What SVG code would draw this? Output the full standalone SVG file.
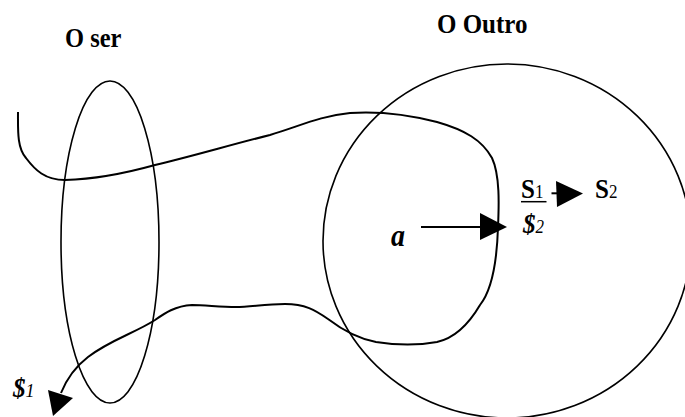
<svg xmlns="http://www.w3.org/2000/svg" width="685" height="417" viewBox="0 0 685 417">
<style>
.shape{fill:none;stroke:#000;stroke-width:1.6}
.line{fill:none;stroke:#000;stroke-width:2}
.head{fill:#000;stroke:none}
text{font-family:"Liberation Serif","Times New Roman","DejaVu Serif",serif;fill:#000}
.b{font-weight:bold}
.i{font-style:italic}
</style>
<rect width="685" height="417" fill="#fff"/>
<g id="o-ser">
  <ellipse class="shape" cx="110" cy="242" rx="49" ry="161"/>
  <text class="b" font-family="Liberation Serif, serif" font-size="24.5" transform="translate(65,46.7) scale(1,1.12)">O ser</text>
</g>
<g id="o-outro">
  <ellipse class="shape" cx="507" cy="241" rx="184" ry="177"/>
  <text class="b" font-family="Liberation Serif, serif" font-size="25" transform="translate(437,33.3) scale(1,1.1)">O Outro</text>
</g>
<g id="node-a">
  <text class="b i" font-family="Liberation Serif, serif" font-size="28" transform="translate(391,246) scale(1,1.15)">a</text>
</g>
<g id="node-s1">
  <text font-family="Liberation Serif, serif" transform="translate(521,198) scale(1,1.05)"><tspan class="b" font-size="25">S</tspan><tspan font-size="17">1</tspan></text>
  <line x1="521" y1="201.7" x2="546.5" y2="201.7" stroke="#000" stroke-width="1.5"/>
</g>
<g id="node-s2">
  <text font-family="Liberation Serif, serif" transform="translate(595,198) scale(1,1.05)"><tspan class="b" font-size="25">S</tspan><tspan font-size="17">2</tspan></text>
</g>
<g id="node-barred-s2">
  <text font-family="Liberation Serif, serif" transform="translate(523,233) scale(1,1.1)"><tspan class="b i" font-size="25">$</tspan><tspan class="i" font-size="17">2</tspan></text>
</g>
<g id="node-barred-s1">
  <text font-family="Liberation Serif, serif" transform="translate(13,397) scale(1,1.1)"><tspan class="b i" font-size="25">$</tspan><tspan class="i" font-size="18">1</tspan></text>
</g>
<g id="connectors">
  <path class="line" d="M18,112 C18,130 17,148 26,158 C35,170 45,180 65,180 C100,179 130,172 155,165 C190,157 230,145 270,135 C300,126 320,116 350,113 C380,111 410,115 437,122 C465,130 482,140 492,158 C500,175 499,205 498,227 C497,260 492,290 480,305 C470,322 455,338 437,342 C415,346 395,345 376,342 C360,339 345,332 328,319 C315,310 305,304 285,304 C265,304 250,307 236,307 C220,307 205,305 192,305 C175,306 165,313 155,320 C135,333 110,340 88,357 C75,367 67,378 61,393"/>
  <polygon class="head" points="48,390 73,398 53,416"/>
  <line class="line" x1="421" y1="227" x2="482" y2="227"/>
  <polygon class="head" points="480,213 480,240 507,227"/>
  <line class="line" x1="551.5" y1="193.3" x2="557" y2="193.3"/>
  <polygon class="head" points="556,181 583,193.5 557,207"/>
</g>
</svg>
